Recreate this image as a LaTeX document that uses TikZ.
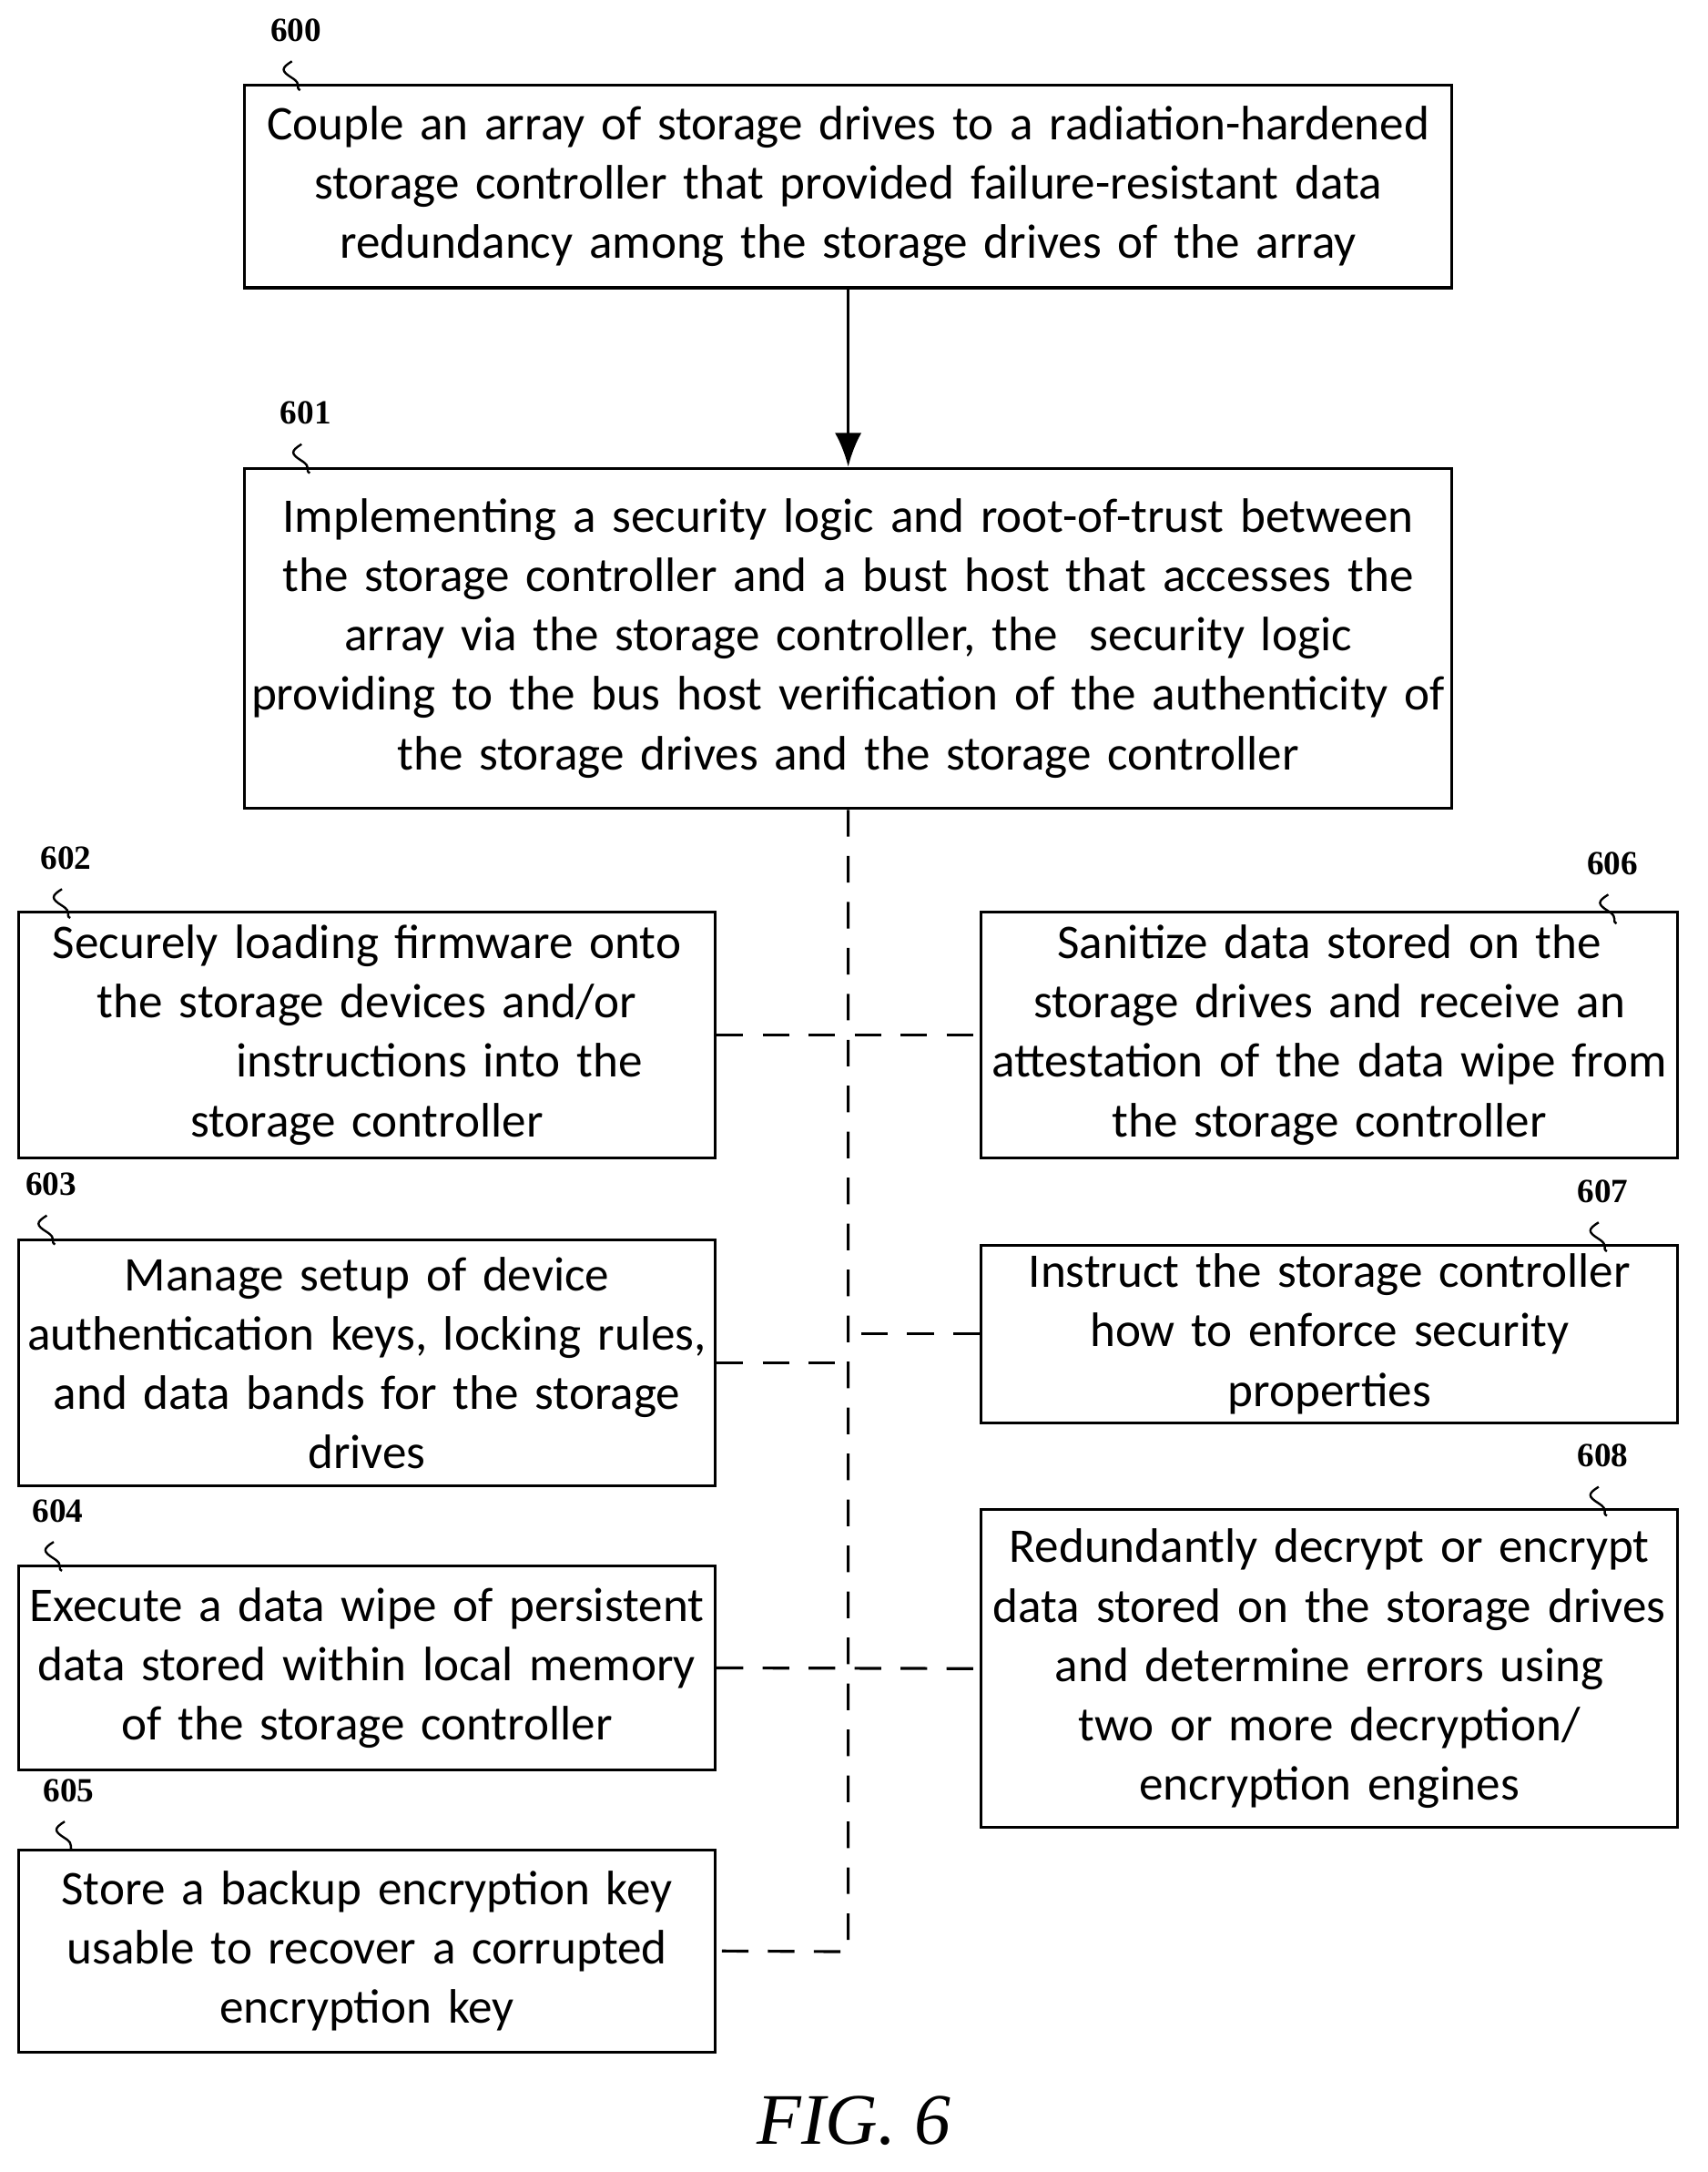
\documentclass[tikz,border=0pt]{standalone}
\usepackage{fontspec}
\setmainfont{Carlito}
\newfontfamily\numfont{Liberation Serif}
\usetikzlibrary{positioning,arrows.meta}
\tikzset{
  box/.style={draw,line width=1.2pt,align=center,inner sep=2pt,font=\fontsize{20}{24.5}\selectfont},
  widebox/.style={box,text width=17.4cm},
  sidebox/.style={box,text width=9.98cm},
  link/.style={line width=1.2pt,dash pattern=on 11pt off 8pt},
  refnum/.style={font=\numfont\bfseries\fontsize{14}{16}\selectfont}
}
\newcommand{\squig}[1]{\draw[line width=0.9pt] (#1) ++(-3,8) .. controls +(-8,5) and +(-8,-5) .. ++(0,12) .. controls +(8,5) and +(-4,-2) .. ++(6,9);}
\begin{document}
\begin{tikzpicture}[x=0.02cm,y=-0.02cm]
  \useasboundingbox (0,0) rectangle (1240,1577);

  % Boxes
  \node[widebox,minimum height=2.94cm] (s600) at (616,135.5)
    {Couple an array of storage drives to a radiation-hardened\\ storage controller that provided failure-resistant data\\ redundancy among the storage drives of the array};
  \node[widebox,minimum height=4.94cm] (s601) at (616,463.5)
    {Implementing a security logic and root-of-trust between\\ the storage controller and a bust host that accesses the\\ array via the storage controller, the\ \ security logic\\ providing to the bus host verification of the authenticity of\\ the storage drives and the storage controller};
  \node[sidebox,minimum height=3.58cm] (s602) at (266.5,751.5)
    {Securely loading firmware onto\\ the storage devices and/or\\ \hspace*{3em}instructions into the\\ storage controller};
  \node[sidebox,minimum height=3.58cm] (s603) at (266.5,989.5)
    {Manage setup of device\\ authentication keys, locking rules,\\ and data bands for the storage\\ drives};
  \node[sidebox,minimum height=2.96cm] (s604) at (266.5,1211)
    {Execute a data wipe of persistent\\ data stored within local memory\\ of the storage controller};
  \node[sidebox,minimum height=2.94cm] (s605) at (266.5,1416.5)
    {Store a backup encryption key\\ usable to recover a corrupted\\ encryption key};
  \node[sidebox,minimum height=3.58cm] (s606) at (965.5,751.5)
    {Sanitize data stored on the\\ storage drives and receive an\\ attestation of the data wipe from\\ the storage controller};
  \node[sidebox,minimum height=2.58cm] (s607) at (965.5,968.5)
    {Instruct the storage controller\\ how to enforce security\\ properties};
  \node[sidebox,minimum height=4.62cm] (s608) at (965.5,1211.5)
    {Redundantly decrypt or encrypt\\ data stored on the storage drives\\ and determine errors using\\ two or more decryption/\\ encryption engines};

  % Reference numerals
  \node[refnum] (n600) at (215,22) {600};   \squig{n600.south}
  \node[refnum] (n601) at (222,300) {601};  \squig{n601.south}
  \node[refnum] (n602) at (48,623) {602};   \squig{n602.south}
  \node[refnum] (n603) at (37,860) {603};   \squig{n603.south}
  \node[refnum] (n604) at (42,1097) {604};  \squig{n604.south}
  \node[refnum] (n605) at (50,1300) {605};  \squig{n605.south}
  \node[refnum] (n606) at (1171,627) {606}; \squig{n606.south}
  \node[refnum] (n607) at (1164,865) {607}; \squig{n607.south}
  \node[refnum] (n608) at (1164,1057) {608};\squig{n608.south}

  % Connectors
  \draw[line width=1.4pt,-{Latex[length=14pt,width=11pt]}] (s600) -- (s601);
  \coordinate (bus) at (616,1417);
  \draw[link] (s601.south) -- (bus) -- (s605.east);
  \draw[link] (s602.east) -- (s606.west);
  \draw[link] (s603.east) -- (s603.east -| bus);
  \draw[link] (s607.west) -- (s607.west -| bus);
  \draw[link] (s604.east) -- (s608.west);

  \node[font=\numfont\itshape\fontsize{30}{34}\selectfont] (fig) at (620,1540) {FIG. 6};
\end{tikzpicture}
\end{document}
